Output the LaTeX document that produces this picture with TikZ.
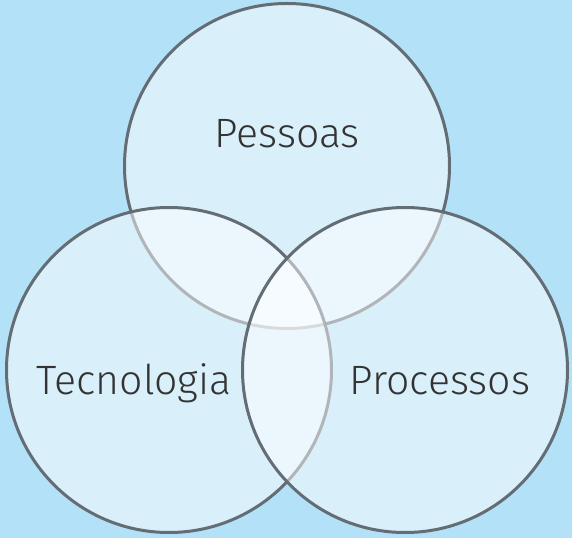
\documentclass[tikz,border=0pt]{standalone}
\usepackage{fontspec}
\setmainfont{Fira Sans Light}
\usepackage{xcolor}
\definecolor{fond_bleu}{HTML}{B3E1F7}
\definecolor{trait_gris}{HTML}{646C74}
\definecolor{texte_gris}{HTML}{333333}

\begin{document}
\begin{tikzpicture}[x=1pt,y=1pt,
    cercle/.style={circle, draw=trait_gris, line width=3pt, fill=white, fill opacity=0.5,
                   draw opacity=1, minimum size=325pt, inner sep=0pt},
    etiquette/.style={text=texte_gris, anchor=base, font=\fontsize{41}{46}\selectfont}]

    % Fond
    \fill[fond_bleu] (0,0) rectangle (572,538);
    \useasboundingbox (0,0) rectangle (572,538);

    % Les trois cercles (haut, gauche, droite)
    \node[cercle] (pessoas) at (287,372) {};
    \node[cercle] (tecnologia) at (169,168) {};
    \node[cercle] (processos) at (405,168) {};

    % Textes
    \node[etiquette] (txtpessoas) at (287,390) {Pessoas};
    \node[etiquette] (txttecnologia) at (134,143) {Tecnologia};
    \node[etiquette] (txtprocessos) at (440,143) {Processos};
\end{tikzpicture}
\end{document}
